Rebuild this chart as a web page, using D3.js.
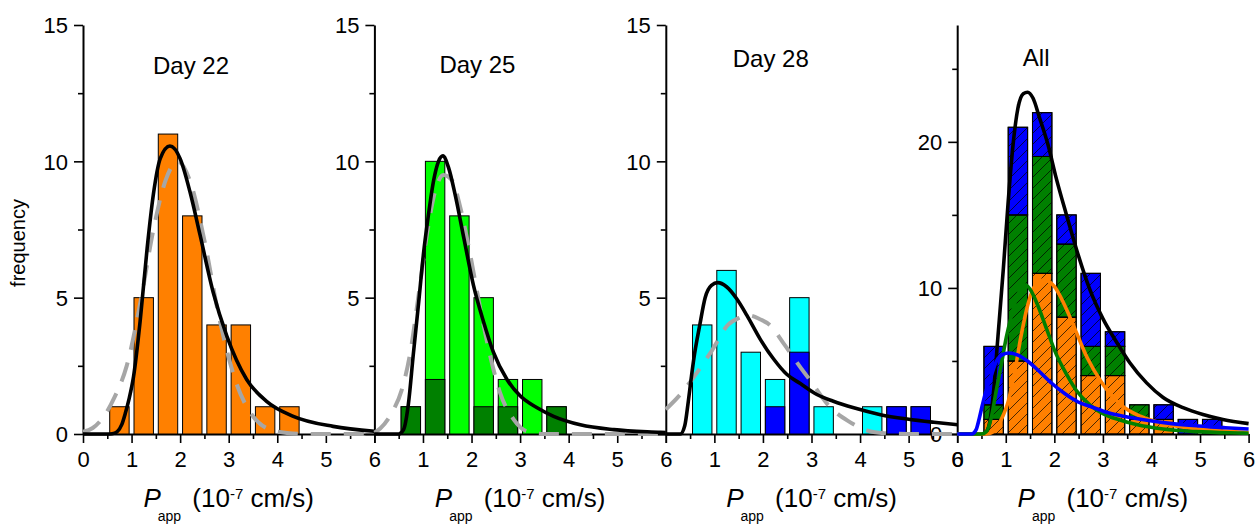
<!DOCTYPE html>
<html>
<head>
<meta charset="utf-8">
<script src="https://cdn.jsdelivr.net/npm/d3@7"></script>
<style>
  body { margin: 0; background: #fff; }
  svg { display: block; }
  text { font-family: "Liberation Sans", Arial, sans-serif; fill: #000; }
</style>
</head>
<body>
<svg id="chart" width="1259" height="528"></svg>
<script>
// ---- data ----------------------------------------------------------------
// histogram bins (bin width 0.5, centres in 10^-7 cm/s)
const binCenters = [0.75, 1.25, 1.75, 2.25, 2.75, 3.25, 3.75, 4.25, 4.75, 5.25];

// counts per bin
const day22Counts    = [1, 5, 11, 8, 4, 4, 1, 1, 0, 0];
const day25Counts    = [1, 10, 8, 5, 2, 2, 1, 0, 0, 0];
const day25SubCounts = [1, 2, 0, 1, 1, 0, 1, 0, 0, 0];
const day28Counts    = [4, 6, 3, 2, 5, 1, 0, 1, 1, 1];
const day28SubCounts = [0, 0, 0, 1, 3, 0, 0, 0, 1, 1];

// log-normal fits [x, frequency]
const day22Fit = [[0,0],[0.5,0],[0.6,0.01],[0.7,0.08],[0.8,0.35],[0.87,0.75],[0.95,1.3],[1.04,2.1],[1.18,4.2],[1.32,6.8],[1.45,8.8],[1.59,10.1],[1.79,10.56],[2.0,10.1],[2.2,8.9],[2.41,7.3],[2.68,5.2],[2.96,3.6],[3.37,2.0],[3.78,1.2],[4.33,0.65],[5.15,0.28],[6.0,0.1]];
const day25Fit = [[0,0],[0.5,0],[0.6,0.16],[0.7,1.1],[0.8,2.9],[0.91,4.8],[1.01,6.6],[1.11,8.0],[1.22,9.3],[1.32,10.0],[1.41,10.2],[1.53,9.75],[1.66,8.8],[1.84,7.2],[2.04,5.45],[2.25,4.1],[2.45,3.0],[2.73,2.0],[3.0,1.4],[3.35,0.96],[3.69,0.65],[4.24,0.34],[4.93,0.16],[5.89,0.06],[6.0,0.05]];
const day28Fit = [[0,0],[0.3,0],[0.39,0.3],[0.46,1.15],[0.52,2.0],[0.58,2.8],[0.7,4.0],[0.81,5.0],[0.94,5.45],[1.07,5.55],[1.25,5.4],[1.46,4.96],[1.67,4.35],[1.94,3.49],[2.22,2.75],[2.49,2.19],[2.77,1.85],[3.11,1.45],[3.45,1.2],[3.87,0.96],[4.42,0.71],[4.97,0.55],[5.52,0.43],[6.0,0.34]];
const allFit   = [[0,0],[0.55,0],[0.64,0.4],[0.74,2.6],[0.84,6.7],[0.95,11.3],[1.05,15.9],[1.15,19.8],[1.25,22.3],[1.36,23.3],[1.45,23.4],[1.56,23.0],[1.7,21.6],[1.87,19.8],[2.04,17.5],[2.25,15.0],[2.46,12.6],[2.73,9.9],[3.0,7.9],[3.28,6.3],[3.55,4.9],[3.9,3.5],[4.24,2.5],[4.65,1.8],[5.06,1.33],[5.47,0.99],[6.0,0.71]];

// normal fits [x, frequency]
const day22Normal = [[0,0.08],[0.2,0.22],[0.41,0.6],[0.65,1.35],[0.9,2.5],[1.2,5.0],[1.45,7.5],[1.7,9.3],[1.95,10.0],[2.2,9.3],[2.5,7.1],[2.8,4.3],[3.15,1.9],[3.5,0.65],[3.8,0.2],[4.2,0.04],[4.6,0],[6,0]];
const day25Normal = [[0,0.05],[0.12,0.2],[0.36,0.78],[0.56,1.6],[0.74,3.0],[0.91,5.1],[1.08,7.3],[1.25,8.9],[1.42,9.5],[1.6,9.3],[1.77,8.3],[1.97,6.6],[2.18,4.6],[2.38,2.9],[2.59,1.5],[2.87,0.53],[3.14,0.1],[3.5,0],[6,0]];
const day28Normal = [[0,0.9],[0.3,1.45],[0.66,2.3],[0.95,3.06],[1.28,4.0],[1.5,4.25],[1.71,4.35],[1.95,4.2],[2.14,4.0],[2.41,3.36],[2.75,2.5],[3.0,1.9],[3.36,1.03],[3.75,0.48],[4.18,0.11],[4.5,0.03],[5,0],[6,0]];

// axis ticks
const xMajorTicks = [0, 1, 2, 3, 4, 5, 6];
const xMinorTicks = [0.5, 1.5, 2.5, 3.5, 4.5, 5.5];
const dayYMajor = [0, 5, 10, 15];
const dayYMinor = [2.5, 7.5, 12.5];
const allYMajor = [0, 10, 20];
const allYMinor = [5, 15, 25];

const panelTitles = ["Day 22", "Day 25", "Day 28", "All"];

// ---- layout --------------------------------------------------------------
const svg = d3.select("#chart");
const LEFT = 83, PW = 291.4, Y0 = 434, YTOP = 25, BAR_HALF = 0.2;
const C = { orange: "#ff8000", lime: "#00ff00", green: "#008000", cyan: "#00ffff", blue: "#0000ff", grey: "#a6a6a6" };

// diagonal hatch for the combined panel
svg.append("defs").append("pattern")
  .attr("id", "hatch").attr("patternUnits", "userSpaceOnUse")
  .attr("width", 11).attr("height", 11)
  .append("path")
  .attr("d", "M0,11L11,0M-2.75,2.75L2.75,-2.75M8.25,13.75L13.75,8.25")
  .attr("stroke", "#000").attr("stroke-width", 0.7);

const axisLayer = svg.append("g");
const dataLayer = svg.append("g");

function panelScales(i, yMax) {
  const l = LEFT + i * PW;
  return {
    x: d3.scaleLinear().domain([0, 6]).range([l, l + PW]),
    y: d3.scaleLinear().domain([0, yMax]).range([Y0, YTOP])
  };
}

function drawAxes(p, yMajor, yMinor, showZero) {
  const g = axisLayer.append("g");
  // x axis
  g.append("g").attr("transform", `translate(0,${Y0})`)
    .call(d3.axisBottom(p.x).tickValues(xMinorTicks).tickSize(5).tickFormat(""))
    .call(a => a.select(".domain").remove());
  const gx = g.append("g").attr("transform", `translate(0,${Y0})`)
    .call(d3.axisBottom(p.x).tickValues(xMajorTicks).tickSize(9).tickSizeOuter(0)
      .tickFormat(d => (d === 0 && !showZero) ? "" : d));
  gx.selectAll("text").attr("y", 33).attr("dy", null).attr("font-size", 22);
  // y axis
  g.append("g").attr("transform", `translate(${p.x(0)},0)`)
    .call(d3.axisLeft(p.y).tickValues(yMinor).tickSize(5).tickFormat(""))
    .call(a => a.select(".domain").remove());
  const gy = g.append("g").attr("transform", `translate(${p.x(0)},0)`)
    .call(d3.axisLeft(p.y).tickValues(yMajor).tickSize(9).tickSizeOuter(0)
      .tickFormat(d => (d === 0 && !showZero) ? "" : d));
  gy.selectAll("text").attr("x", -15).attr("dy", "0.36em").attr("font-size", 22);
  g.selectAll(".domain").attr("stroke-width", 2).attr("stroke", "#000");
  g.selectAll(".tick line").attr("stroke-width", 1.6).attr("stroke", "#000");
  g.selectAll("text").attr("fill", "#000").attr("font-family", '"Liberation Sans", Arial, sans-serif');

  // axis title
  const t = g.append("text")
    .attr("x", (p.x(0) + p.x(6)) / 2).attr("y", 507)
    .attr("text-anchor", "middle").attr("font-size", 26);
  t.append("tspan").attr("font-style", "italic").text("P");
  t.append("tspan").attr("font-size", 14).attr("dx", -3).attr("dy", 14).text("app");
  t.append("tspan").attr("dx", 4).attr("dy", -14).text("\u00a0(10");
  t.append("tspan").attr("font-size", 15).attr("dy", -8).text("-7");
  t.append("tspan").attr("dy", 8).text(" cm/s)");
}

function drawBars(g, p, counts, fill) {
  const data = binCenters.map((c, i) => ({ c, v: counts[i] })).filter(d => d.v > 0);
  g.selectAll(null).data(data).join("rect")
    .attr("x", d => p.x(d.c - BAR_HALF))
    .attr("width", d => p.x(d.c + BAR_HALF) - p.x(d.c - BAR_HALF))
    .attr("y", d => p.y(d.v))
    .attr("height", d => p.y(0) - p.y(d.v))
    .attr("fill", fill)
    .attr("stroke", "#000").attr("stroke-width", 1);
}

function drawStack(g, p, layers) {
  // layers: [{counts, fill}], bottom first
  const base = binCenters.map(() => 0);
  layers.forEach(L => {
    const data = binCenters.map((c, i) => ({ c, lo: base[i], hi: base[i] + L.counts[i] }))
      .filter(d => d.hi > d.lo);
    ["fill", "hatch"].forEach(kind => {
      g.selectAll(null).data(data).join("rect")
        .attr("x", d => p.x(d.c - BAR_HALF))
        .attr("width", d => p.x(d.c + BAR_HALF) - p.x(d.c - BAR_HALF))
        .attr("y", d => p.y(d.hi))
        .attr("height", d => p.y(d.lo) - p.y(d.hi))
        .attr("fill", kind === "fill" ? L.fill : "url(#hatch)")
        .attr("stroke", "#000").attr("stroke-width", 1);
    });
    L.counts.forEach((v, i) => base[i] += v);
  });
}

function drawCurve(g, p, pts, color, dashed) {
  const line = d3.line().x(d => p.x(d[0])).y(d => p.y(d[1])).curve(d3.curveMonotoneX);
  const path = g.append("path").attr("d", line(pts)).attr("fill", "none")
    .attr("stroke", color).attr("stroke-width", dashed ? 4 : 3.6)
    .attr("stroke-linejoin", "round");
  if (dashed) path.attr("stroke-dasharray", "20,13");
}

function drawTitle(g, p, text, xPix, yBase) {
  g.append("text").attr("x", p.x(0) + xPix).attr("y", yBase)
    .attr("text-anchor", "middle").attr("font-size", 24).text(text);
}

// ---- panels --------------------------------------------------------------
const P = [panelScales(0, 15), panelScales(1, 15), panelScales(2, 15), panelScales(3, 28)];
drawAxes(P[0], dayYMajor, dayYMinor, true);
drawAxes(P[1], dayYMajor, dayYMinor, false);
drawAxes(P[2], dayYMajor, dayYMinor, false);
drawAxes(P[3], allYMajor, allYMinor, true);

// Day 22
const g1 = dataLayer.append("g");
drawBars(g1, P[0], day22Counts, C.orange);
drawCurve(g1, P[0], day22Normal, C.grey, true);
drawCurve(g1, P[0], day22Fit, "#000");
drawTitle(g1, P[0], panelTitles[0], 108, 74);

// Day 25
const g2 = dataLayer.append("g");
drawBars(g2, P[1], day25Counts, C.lime);
drawBars(g2, P[1], day25SubCounts, C.green);
drawCurve(g2, P[1], day25Normal, C.grey, true);
drawCurve(g2, P[1], day25Fit, "#000");
drawTitle(g2, P[1], panelTitles[1], 103, 73);

// Day 28
const g3 = dataLayer.append("g");
drawBars(g3, P[2], day28Counts, C.cyan);
drawBars(g3, P[2], day28SubCounts, C.blue);
drawCurve(g3, P[2], day28Normal, C.grey, true);
drawCurve(g3, P[2], day28Fit, "#000");
drawTitle(g3, P[2], panelTitles[2], 105, 67);

// All days combined
const g4 = dataLayer.append("g");
drawStack(g4, P[3], [
  { counts: day22Counts, fill: C.orange },
  { counts: day25Counts, fill: C.green },
  { counts: day28Counts, fill: C.blue }
]);
drawCurve(g4, P[3], allFit, "#000");
drawCurve(g4, P[3], day22Fit, C.orange);
drawCurve(g4, P[3], day25Fit, C.green);
drawCurve(g4, P[3], day28Fit, C.blue);
drawTitle(g4, P[3], panelTitles[3], 79, 66);

// y-axis label
svg.append("text")
  .attr("transform", "translate(25,243) rotate(-90)")
  .attr("text-anchor", "middle").attr("font-size", 20)
  .text("frequency");
</script>
</body>
</html>
